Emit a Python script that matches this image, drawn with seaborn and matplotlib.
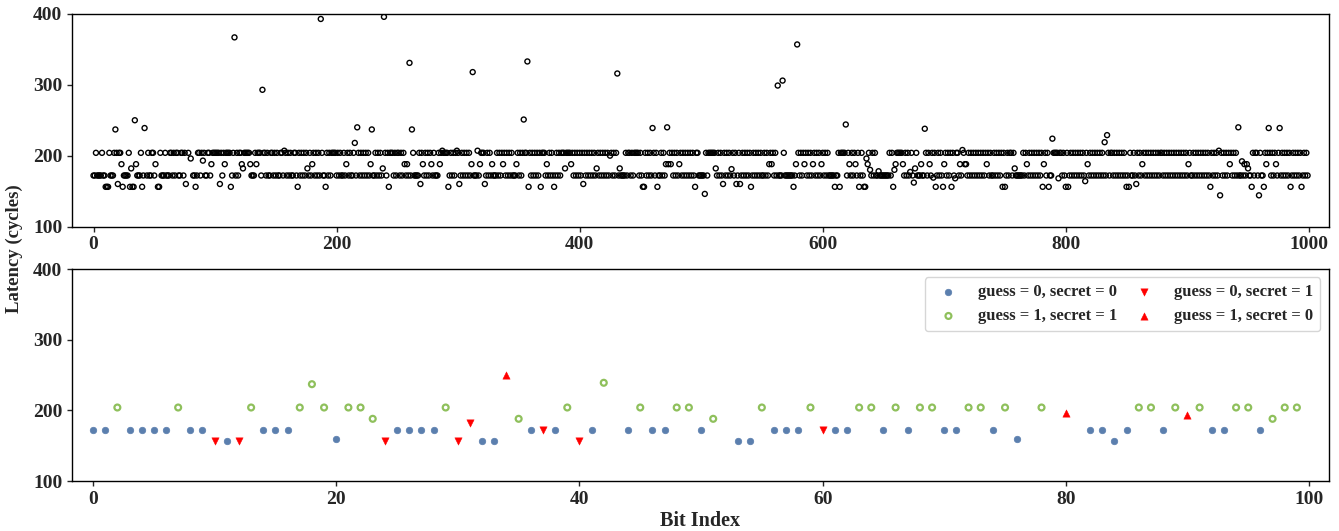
import numpy as np
import pandas as pd
import matplotlib
matplotlib.use("Agg")
import matplotlib.pyplot as plt
import seaborn as sns

nan = np.nan

# ---- data: latency for bits 0..99 (also shown in the bottom panel) ----
lat_000_099 = [
    172, 172, 204, 172, 172, 172, 172, 204, 172, 172,
    156, 156, 156, 204, 172, 172, 172, 204, 237, 204,
    160, 204, 204, 188, 156, 172, 172, 172, 172, 204,
    156, 182, 156, 156, 250, 188, 172, 172, 172, 204,
    156, 172, 239, nan, 172, 204, 172, 172, 204, 204,
    172, 188, nan, 156, 156, 204, 172, 172, 172, 204,
    172, 172, 172, 204, 204, 172, 204, 172, 204, 204,
    172, 172, 204, 204, 172, 204, 160, nan, 204, nan,
    196, nan, 172, 172, 156, 172, 204, 204, 172, 204,
    193, 204, 172, 172, 204, 204, 172, 188, 204, 204,
]
lat_100_299 = [
    204, 204, 204, 204, 160, 204, 172, 204, 188, 204,
    204, 204, 204, 156, 172, 204, 367, 172, 204, 172,
    204, 204, 188, 182, 204, 204, 204, 204, 204, 188,
    172, 172, 172, 204, 188, 204, 204, 204, 172, 293,
    204, 204, 172, 204, 172, 172, 204, 204, 172, 204,
    172, 204, 172, 172, 204, 204, 172, 207, 204, 172,
    204, 172, 204, 172, 172, 204, 204, 172, 156, 204,
    172, 204, 172, 204, 172, 204, 182, 172, 204, 172,
    188, 204, 172, 204, 172, 204, 172, 393, 204, 172,
    172, 156, 204, 172, 204, 172, 204, 204, 204, 204,
    172, 204, 172, 204, 172, 172, 204, 172, 188, 204,
    172, 204, 172, 172, 204, 218, 172, 240, 204, 172,
    204, 172, 204, 172, 204, 172, 204, 172, 188, 237,
    172, 172, 204, 172, 204, 172, 204, 172, 182, 396,
    204, 172, 204, 156, 204, 204, 204, 172, 204, 172,
    204, 204, 172, 204, 172, 204, 188, 172, 188, 172,
    331, 172, 237, 204, 172, 172, 172, 172, 204, 160,
    204, 188, 172, 204, 172, 204, 172, 204, 188, 172,
    204, 172, 172, 172, 204, 188, 204, 207, 204, 204,
    204, 204, 156, 172, 204, 172, 204, 172, 204, 207,
]
lat_300_499 = [
    204, 160, 172, 204, 172, 204, 172, 204, 172, 204,
    172, 188, 318, 172, 172, 172, 207, 172, 188, 204,
    204, 204, 160, 172, 204, 172, 204, 172, 188, 172,
    172, 172, 204, 172, 204, 172, 204, 188, 204, 172,
    204, 172, 204, 172, 204, 172, 172, 172, 188, 204,
    172, 204, 172, 204, 251, 204, 204, 333, 156, 204,
    172, 204, 172, 204, 172, 204, 172, 204, 156, 204,
    204, 204, 172, 188, 172, 204, 172, 204, 172, 156,
    172, 204, 172, 204, 172, 204, 204, 204, 182, 204,
    204, 204, 204, 188, 204, 172, 204, 172, 204, 172,
    204, 172, 204, 160, 204, 172, 204, 172, 204, 172,
    204, 172, 204, 172, 182, 204, 172, 204, 172, 204,
    172, 204, 172, 204, 172, 200, 204, 172, 204, 172,
    204, 316, 172, 182, 172, 172, 172, 172, 204, 172,
    204, 204, 172, 204, 172, 204, 204, 204, 204, 172,
    204, 172, 156, 156, 204, 172, 204, 172, 204, 172,
    239, 204, 172, 204, 156, 172, 172, 204, 172, 204,
    172, 188, 240, 188, 204, 188, 204, 172, 204, 172,
    204, 172, 188, 204, 172, 204, 172, 204, 172, 204,
    172, 204, 172, 204, 172, 156, 204, 204, 172, 172,
]
lat_500_699 = [
    172, 172, 172, 146, 204, 172, 204, 204, 204, 204,
    204, 204, 182, 172, 204, 172, 204, 172, 160, 204,
    172, 204, 172, 204, 172, 181, 204, 172, 204, 160,
    172, 204, 160, 172, 204, 172, 204, 172, 204, 172,
    204, 156, 172, 204, 172, 204, 172, 204, 172, 204,
    172, 172, 204, 172, 204, 172, 188, 204, 188, 204,
    172, 204, 172, 299, 172, 172, 172, 306, 204, 172,
    172, 172, 172, 172, 172, 172, 156, 172, 188, 357,
    204, 172, 204, 172, 204, 188, 204, 172, 204, 172,
    204, 172, 188, 204, 172, 204, 172, 204, 172, 188,
    204, 172, 204, 172, 204, 172, 172, 172, 172, 172,
    156, 172, 172, 204, 156, 204, 204, 204, 204, 244,
    172, 204, 188, 172, 204, 172, 204, 188, 172, 204,
    156, 172, 204, 172, 156, 156, 196, 188, 204, 180,
    172, 204, 172, 204, 172, 172, 178, 172, 172, 172,
    172, 172, 172, 172, 172, 204, 172, 204, 156, 180,
    188, 204, 204, 204, 204, 204, 188, 172, 204, 172,
    204, 172, 177, 204, 172, 162, 182, 204, 172, 172,
    172, 188, 172, 172, 238, 204, 172, 204, 188, 172,
    204, 169, 204, 156, 172, 204, 172, 204, 172, 156,
]
lat_700_899 = [
    188, 204, 172, 204, 172, 204, 156, 204, 172, 168,
    204, 204, 172, 188, 172, 208, 204, 188, 188, 172,
    204, 172, 204, 172, 204, 172, 204, 172, 204, 172,
    204, 172, 204, 172, 204, 188, 204, 172, 204, 172,
    172, 204, 172, 204, 172, 204, 172, 204, 156, 204,
    156, 172, 204, 172, 204, 204, 172, 204, 182, 172,
    172, 172, 172, 172, 172, 204, 172, 204, 188, 172,
    204, 172, 204, 172, 204, 172, 204, 172, 204, 172,
    204, 156, 188, 204, 172, 204, 156, 172, 172, 224,
    204, 204, 204, 204, 168, 204, 204, 172, 204, 172,
    156, 204, 156, 172, 204, 172, 204, 172, 204, 172,
    204, 172, 204, 172, 204, 172, 164, 204, 188, 172,
    204, 172, 204, 172, 204, 172, 204, 172, 204, 172,
    204, 172, 219, 172, 229, 204, 172, 204, 204, 172,
    204, 172, 204, 172, 204, 172, 204, 172, 204, 172,
    156, 172, 156, 204, 172, 172, 204, 172, 160, 204,
    172, 204, 172, 188, 204, 172, 204, 172, 204, 172,
    204, 172, 204, 172, 204, 172, 204, 172, 204, 204,
    172, 204, 172, 204, 172, 204, 172, 204, 172, 204,
    172, 204, 172, 204, 172, 204, 172, 204, 172, 204,
]
lat_900_999 = [
    172, 188, 204, 172, 172, 204, 172, 204, 172, 204,
    172, 204, 172, 204, 172, 204, 172, 204, 172, 156,
    204, 172, 204, 172, 204, 172, 207, 144, 204, 172,
    204, 172, 204, 172, 204, 188, 204, 172, 204, 172,
    204, 172, 240, 172, 172, 192, 172, 188, 172, 188,
    182, 172, 172, 156, 204, 172, 204, 204, 172, 144,
    204, 172, 172, 156, 204, 188, 204, 239, 204, 172,
    204, 172, 204, 188, 172, 204, 239, 172, 204, 172,
    204, 172, 204, 172, 204, 156, 172, 204, 172, 204,
    172, 204, 172, 204, 156, 172, 204, 172, 204, 172,
]

# guess / secret for bits 0..99 (bottom panel)
guess_000_099 = [
    0, 0, 1, 0, 0, 0, 0, 1, 0, 0,
    0, 0, 0, 1, 0, 0, 0, 1, 1, 1,
    0, 1, 1, 1, 0, 0, 0, 0, 0, 1,
    0, 0, 0, 0, 1, 1, 0, 0, 0, 1,
    0, 0, 1, 0, 0, 1, 0, 0, 1, 1,
    0, 1, 0, 0, 0, 1, 0, 0, 0, 1,
    0, 0, 0, 1, 1, 0, 1, 0, 1, 1,
    0, 0, 1, 1, 0, 1, 0, 0, 1, 0,
    1, 0, 0, 0, 0, 0, 1, 1, 0, 1,
    1, 1, 0, 0, 1, 1, 0, 1, 1, 1,
]
secret_000_099 = [
    0, 0, 1, 0, 0, 0, 0, 1, 0, 0,
    1, 0, 1, 1, 0, 0, 0, 1, 1, 1,
    0, 1, 1, 1, 1, 0, 0, 0, 0, 1,
    1, 1, 0, 0, 0, 1, 0, 1, 0, 1,
    1, 0, 1, 0, 0, 1, 0, 0, 1, 1,
    0, 1, 0, 0, 0, 1, 0, 0, 0, 1,
    1, 0, 0, 1, 1, 0, 1, 0, 1, 1,
    0, 0, 1, 1, 0, 1, 0, 0, 1, 0,
    0, 0, 0, 0, 0, 0, 1, 1, 0, 1,
    0, 1, 0, 0, 1, 1, 0, 1, 1, 1,
]

categories = ["guess = 0, secret = 0", "guess = 1, secret = 1",
              "guess = 0, secret = 1", "guess = 1, secret = 0"]
x_ticks_top = [0, 200, 400, 600, 800, 1000]
x_ticks_bottom = [0, 20, 40, 60, 80, 100]
y_ticks = [100, 200, 300, 400]

latency = (lat_000_099 + lat_100_299 + lat_300_499 + lat_500_699
           + lat_700_899 + lat_900_999)
df_all = pd.DataFrame({"bit": np.arange(len(latency)), "latency": latency})

def cat_of(g, s):
    if g == 0 and s == 0:
        return categories[0]
    if g == 1 and s == 1:
        return categories[1]
    if g == 0 and s == 1:
        return categories[2]
    return categories[3]

df_bits = pd.DataFrame({
    "bit": np.arange(100),
    "latency": lat_000_099,
    "cat": [cat_of(g, s) for g, s in zip(guess_000_099, secret_000_099)],
})

# ---- style ----
sns.set_style("ticks")
plt.rcParams["font.family"] = ["Liberation Serif", "DejaVu Serif"]
plt.rcParams["font.weight"] = "bold"
plt.rcParams["axes.labelweight"] = "bold"
plt.rcParams["axes.edgecolor"] = "black"
plt.rcParams["axes.linewidth"] = 1.0
plt.rcParams["xtick.direction"] = "out"
plt.rcParams["ytick.direction"] = "out"
plt.rcParams["xtick.major.size"] = 3.5
plt.rcParams["ytick.major.size"] = 3.5

W, H = 1339, 531
fig = plt.figure(figsize=(W / 100, H / 100), dpi=100)
left, right = 72 / W, 1328.5 / W
ax1 = fig.add_axes([left, 1 - 226.5 / H, right - left, (226.5 - 14) / H])
ax2 = fig.add_axes([left, 1 - 481 / H, right - left, (481 - 269) / H])

# top panel: all 1000 bits
sns.scatterplot(data=df_all, x="bit", y="latency", ax=ax1, marker="o",
                s=13, facecolor="none", edgecolor="black", linewidth=1.0,
                legend=False)
ax1.set_xlim(-17.7, 1016.2)
ax1.set_ylim(100, 400)
ax1.set_xticks(x_ticks_top)
ax1.set_yticks(y_ticks)
ax1.set_xlabel("")
ax1.set_ylabel("")

# bottom panel: first 100 bits by category
blue = "#5b7fae"
green = "#8fc05c"
red = "#ff0000"
styles = {
    categories[0]: dict(marker="o", s=22, color=blue, edgecolor=blue, linewidth=0.5),
    categories[1]: dict(marker="o", s=18, facecolor="none", edgecolor=green, linewidth=1.6),
    categories[2]: dict(marker="v", s=28, color=red, edgecolor=red, linewidth=0.3),
    categories[3]: dict(marker="^", s=28, color=red, edgecolor=red, linewidth=0.3),
}
for c in categories:
    sub = df_bits[df_bits["cat"] == c]
    sns.scatterplot(data=sub, x="bit", y="latency", ax=ax2, label=c, **styles[c])

ax2.set_xlim(-1.73, 101.6)
ax2.set_ylim(100, 400)
ax2.set_xticks(x_ticks_bottom)
ax2.set_yticks(y_ticks)
ax2.set_ylabel("")
ax2.set_xlabel("Bit Index", fontsize=14.5, fontweight="bold", labelpad=2)

handles, labels = ax2.get_legend_handles_labels()
ax2.legend(handles, labels, ncol=2, loc="upper right",
           prop={"family": "Liberation Serif", "weight": "bold", "size": 12},
           columnspacing=0.6, handletextpad=0.8, framealpha=0.8)

for ax in (ax1, ax2):
    ax.tick_params(axis="both", labelsize=14, width=1.0, length=3.5)
    for lab in ax.get_xticklabels() + ax.get_yticklabels():
        lab.set_fontweight("bold")
    for sp in ax.spines.values():
        sp.set_visible(True)
        sp.set_color("black")
    ax.grid(False)

fig.text(0.011, 0.532, "Latency (cycles)", rotation=90, va="center", ha="center",
         fontsize=13.5, fontweight="bold")

fig.savefig("out.png", dpi=100)
